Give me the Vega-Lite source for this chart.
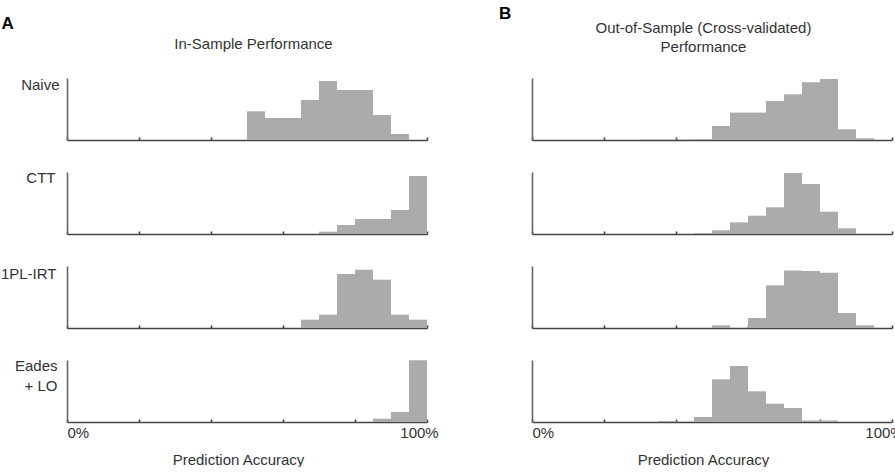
{
  "$schema": "https://vega.github.io/schema/vega-lite/v6.json",
  "padding": {"left": 0, "top": 5, "right": 0, "bottom": 0},
  "background": "white",
  "datasets": {
    "hist": [
      {"p": "A", "m": "Naive", "lo": 50, "hi": 55, "v": 28.7},
      {"p": "A", "m": "Naive", "lo": 55, "hi": 60, "v": 22},
      {"p": "A", "m": "Naive", "lo": 60, "hi": 65, "v": 22},
      {"p": "A", "m": "Naive", "lo": 65, "hi": 70, "v": 40},
      {"p": "A", "m": "Naive", "lo": 70, "hi": 75, "v": 59},
      {"p": "A", "m": "Naive", "lo": 75, "hi": 80, "v": 50},
      {"p": "A", "m": "Naive", "lo": 80, "hi": 85, "v": 50},
      {"p": "A", "m": "Naive", "lo": 85, "hi": 90, "v": 25},
      {"p": "A", "m": "Naive", "lo": 90, "hi": 95, "v": 6},
      {"p": "A", "m": "CTT", "lo": 70, "hi": 75, "v": 2.3},
      {"p": "A", "m": "CTT", "lo": 75, "hi": 80, "v": 9},
      {"p": "A", "m": "CTT", "lo": 80, "hi": 85, "v": 15},
      {"p": "A", "m": "CTT", "lo": 85, "hi": 90, "v": 15},
      {"p": "A", "m": "CTT", "lo": 90, "hi": 95, "v": 24},
      {"p": "A", "m": "CTT", "lo": 95, "hi": 100, "v": 58},
      {"p": "A", "m": "1PL-IRT", "lo": 65, "hi": 70, "v": 8.3},
      {"p": "A", "m": "1PL-IRT", "lo": 70, "hi": 75, "v": 13.3},
      {"p": "A", "m": "1PL-IRT", "lo": 75, "hi": 80, "v": 54},
      {"p": "A", "m": "1PL-IRT", "lo": 80, "hi": 85, "v": 58.3},
      {"p": "A", "m": "1PL-IRT", "lo": 85, "hi": 90, "v": 48.3},
      {"p": "A", "m": "1PL-IRT", "lo": 90, "hi": 95, "v": 13.3},
      {"p": "A", "m": "1PL-IRT", "lo": 95, "hi": 100, "v": 8.3},
      {"p": "A", "m": "Eades", "lo": 85, "hi": 90, "v": 3.3},
      {"p": "A", "m": "Eades", "lo": 90, "hi": 95, "v": 10},
      {"p": "A", "m": "Eades", "lo": 95, "hi": 100, "v": 61.7},
      {"p": "B", "m": "Naive", "lo": 30, "hi": 35, "v": 0.4},
      {"p": "B", "m": "Naive", "lo": 35, "hi": 40, "v": 0.4},
      {"p": "B", "m": "Naive", "lo": 40, "hi": 45, "v": 0.5},
      {"p": "B", "m": "Naive", "lo": 45, "hi": 50, "v": 0.7},
      {"p": "B", "m": "Naive", "lo": 50, "hi": 55, "v": 14},
      {"p": "B", "m": "Naive", "lo": 55, "hi": 60, "v": 27.4},
      {"p": "B", "m": "Naive", "lo": 60, "hi": 65, "v": 27.4},
      {"p": "B", "m": "Naive", "lo": 65, "hi": 70, "v": 39},
      {"p": "B", "m": "Naive", "lo": 70, "hi": 75, "v": 45.7},
      {"p": "B", "m": "Naive", "lo": 75, "hi": 80, "v": 57.7},
      {"p": "B", "m": "Naive", "lo": 80, "hi": 85, "v": 61},
      {"p": "B", "m": "Naive", "lo": 85, "hi": 90, "v": 10.7},
      {"p": "B", "m": "Naive", "lo": 90, "hi": 95, "v": 1.7},
      {"p": "B", "m": "CTT", "lo": 45, "hi": 50, "v": 1},
      {"p": "B", "m": "CTT", "lo": 50, "hi": 55, "v": 3.7},
      {"p": "B", "m": "CTT", "lo": 55, "hi": 60, "v": 11.7},
      {"p": "B", "m": "CTT", "lo": 60, "hi": 65, "v": 18.3},
      {"p": "B", "m": "CTT", "lo": 65, "hi": 70, "v": 26.7},
      {"p": "B", "m": "CTT", "lo": 70, "hi": 75, "v": 61},
      {"p": "B", "m": "CTT", "lo": 75, "hi": 80, "v": 50},
      {"p": "B", "m": "CTT", "lo": 80, "hi": 85, "v": 22.3},
      {"p": "B", "m": "CTT", "lo": 85, "hi": 90, "v": 5.7},
      {"p": "B", "m": "1PL-IRT", "lo": 50, "hi": 55, "v": 2.6},
      {"p": "B", "m": "1PL-IRT", "lo": 60, "hi": 65, "v": 10},
      {"p": "B", "m": "1PL-IRT", "lo": 65, "hi": 70, "v": 42.6},
      {"p": "B", "m": "1PL-IRT", "lo": 70, "hi": 75, "v": 57.6},
      {"p": "B", "m": "1PL-IRT", "lo": 75, "hi": 80, "v": 57},
      {"p": "B", "m": "1PL-IRT", "lo": 80, "hi": 85, "v": 55.3},
      {"p": "B", "m": "1PL-IRT", "lo": 85, "hi": 90, "v": 15},
      {"p": "B", "m": "1PL-IRT", "lo": 90, "hi": 95, "v": 2.6},
      {"p": "B", "m": "Eades", "lo": 35, "hi": 40, "v": 1},
      {"p": "B", "m": "Eades", "lo": 40, "hi": 45, "v": 0.5},
      {"p": "B", "m": "Eades", "lo": 45, "hi": 50, "v": 5},
      {"p": "B", "m": "Eades", "lo": 50, "hi": 55, "v": 42.7},
      {"p": "B", "m": "Eades", "lo": 55, "hi": 60, "v": 56},
      {"p": "B", "m": "Eades", "lo": 60, "hi": 65, "v": 30.7},
      {"p": "B", "m": "Eades", "lo": 65, "hi": 70, "v": 18.3},
      {"p": "B", "m": "Eades", "lo": 70, "hi": 75, "v": 14},
      {"p": "B", "m": "Eades", "lo": 75, "hi": 80, "v": 1.5},
      {"p": "B", "m": "Eades", "lo": 80, "hi": 85, "v": 1.5}
    ]
  },
  "data": {"name": "hist"},
  "config": {
    "font": "Liberation Sans",
    "view": {"stroke": null},
    "bar": {"color": "#ababab"},
    "axis": {
      "grid": false,
      "domainColor": "#444444",
      "domainWidth": 1.6,
      "tickColor": "#444444",
      "tickWidth": 1.6,
      "labelFont": "Liberation Sans",
      "labelFontSize": 15,
      "labelColor": "#333333",
      "titleFont": "Liberation Sans",
      "titleFontSize": 15,
      "titleFontWeight": "normal",
      "titleColor": "#333333"
    },
    "axisY": {"domainColor": "#666666"},
    "title": {"font": "Liberation Sans", "fontSize": 15, "fontWeight": "normal", "color": "#333333"}
  },
  "hconcat": [
    {
      "title": {"text": "A", "anchor": "start", "frame": "bounds", "fontSize": 17, "fontWeight": "bold", "color": "#000000", "baseline": "alphabetic", "dx": 1, "offset": -8.6},
      "bounds": "flush",
      "spacing": 32,
      "vconcat": [
        {
          "title": {"text": "In-Sample Performance", "baseline": "bottom", "offset": 10, "dx": 6.5, "anchor": "middle", "frame": "group"},
          "width": 360, "height": 62,
          "transform": [{"filter": "datum.p == 'A' && datum.m == 'Naive'"}],
          "mark": {"type": "bar"},
          "encoding": {
            "x": {"field": "lo", "type": "quantitative", "scale": {"domain": [0, 100]}, "axis": {"values": [0, 20, 40, 60, 80, 100], "labels": false, "title": null, "tickSize": -3}},
            "x2": {"field": "hi"},
            "y": {"field": "v", "type": "quantitative", "scale": {"domain": [0, 62]}, "axis": {"title": "Naive", "titleAngle": 0, "titleAlign": "right", "titleBaseline": "top", "titleX": -8, "titleY": -1, "ticks": false, "labels": false}},
            "y2": {"datum": 0}
          }
        },
        {
          "width": 360, "height": 62,
          "transform": [{"filter": "datum.p == 'A' && datum.m == 'CTT'"}],
          "mark": {"type": "bar"},
          "encoding": {
            "x": {"field": "lo", "type": "quantitative", "scale": {"domain": [0, 100]}, "axis": {"values": [0, 20, 40, 60, 80, 100], "labels": false, "title": null, "tickSize": -3}},
            "x2": {"field": "hi"},
            "y": {"field": "v", "type": "quantitative", "scale": {"domain": [0, 62]}, "axis": {"title": "CTT", "titleAngle": 0, "titleAlign": "right", "titleBaseline": "top", "titleX": -12, "titleY": -2, "ticks": false, "labels": false}},
            "y2": {"datum": 0}
          }
        },
        {
          "width": 360, "height": 62,
          "transform": [{"filter": "datum.p == 'A' && datum.m == '1PL-IRT'"}],
          "mark": {"type": "bar"},
          "encoding": {
            "x": {"field": "lo", "type": "quantitative", "scale": {"domain": [0, 100]}, "axis": {"values": [0, 20, 40, 60, 80, 100], "labels": false, "title": null, "tickSize": -3}},
            "x2": {"field": "hi"},
            "y": {"field": "v", "type": "quantitative", "scale": {"domain": [0, 62]}, "axis": {"title": "1PL-IRT", "titleAngle": 0, "titleAlign": "right", "titleBaseline": "top", "titleX": -11, "titleY": 0, "ticks": false, "labels": false}},
            "y2": {"datum": 0}
          }
        },
        {
          "width": 360, "height": 62,
          "transform": [{"filter": "datum.p == 'A' && datum.m == 'Eades'"}],
          "mark": {"type": "bar"},
          "encoding": {
            "x": {"field": "lo", "type": "quantitative", "scale": {"domain": [0, 100]}, "axis": {"values": [0, 20, 40, 60, 80, 100], "tickSize": -3, "labelFlush": false, "labelExpr": "datum.value == 0 ? '0%' : datum.value == 100 ? '100%' : ''", "labelAlign": {"condition": {"test": "datum.value == 0", "value": "left"}, "value": "center"}, "labelOffset": {"condition": {"test": "datum.value == 100", "value": -8}, "value": 0}, "labelBaseline": "top", "labelPadding": 6, "title": "Prediction Accuracy", "titleX": 171, "titleY": 42, "titleAlign": "center", "titleBaseline": "alphabetic"}},
            "x2": {"field": "hi"},
            "y": {"field": "v", "type": "quantitative", "scale": {"domain": [0, 62]}, "axis": {"title": ["Eades", "+ LO"], "titleAngle": 0, "titleAlign": "right", "titleBaseline": "top", "titleX": -10, "titleY": -2, "titleLineHeight": 20, "ticks": false, "labels": false}},
            "y2": {"datum": 0}
          }
        }
      ]
    },
    {
      "title": {"text": "B", "anchor": "start", "frame": "group", "fontSize": 17, "fontWeight": "bold", "color": "#000000", "baseline": "alphabetic", "dx": -33, "offset": -15.3},
      "bounds": "flush",
      "spacing": 32,
      "vconcat": [
        {
          "title": {"text": ["Out-of-Sample (Cross-validated)", "Performance"], "baseline": "bottom", "lineHeight": 19, "offset": 8, "dx": -8.5, "anchor": "middle", "frame": "group"},
          "width": 360, "height": 62,
          "transform": [{"filter": "datum.p == 'B' && datum.m == 'Naive'"}],
          "mark": {"type": "bar"},
          "encoding": {
            "x": {"field": "lo", "type": "quantitative", "scale": {"domain": [0, 100]}, "axis": {"values": [0, 20, 40, 60, 80, 100], "labels": false, "title": null, "tickSize": -3}},
            "x2": {"field": "hi"},
            "y": {"field": "v", "type": "quantitative", "scale": {"domain": [0, 62]}, "axis": {"title": null, "ticks": false, "labels": false}},
            "y2": {"datum": 0}
          }
        },
        {
          "width": 360, "height": 62,
          "transform": [{"filter": "datum.p == 'B' && datum.m == 'CTT'"}],
          "mark": {"type": "bar"},
          "encoding": {
            "x": {"field": "lo", "type": "quantitative", "scale": {"domain": [0, 100]}, "axis": {"values": [0, 20, 40, 60, 80, 100], "labels": false, "title": null, "tickSize": -3}},
            "x2": {"field": "hi"},
            "y": {"field": "v", "type": "quantitative", "scale": {"domain": [0, 62]}, "axis": {"title": null, "ticks": false, "labels": false}},
            "y2": {"datum": 0}
          }
        },
        {
          "width": 360, "height": 62,
          "transform": [{"filter": "datum.p == 'B' && datum.m == '1PL-IRT'"}],
          "mark": {"type": "bar"},
          "encoding": {
            "x": {"field": "lo", "type": "quantitative", "scale": {"domain": [0, 100]}, "axis": {"values": [0, 20, 40, 60, 80, 100], "labels": false, "title": null, "tickSize": -3}},
            "x2": {"field": "hi"},
            "y": {"field": "v", "type": "quantitative", "scale": {"domain": [0, 62]}, "axis": {"title": null, "ticks": false, "labels": false}},
            "y2": {"datum": 0}
          }
        },
        {
          "width": 360, "height": 62,
          "transform": [{"filter": "datum.p == 'B' && datum.m == 'Eades'"}],
          "mark": {"type": "bar"},
          "encoding": {
            "x": {"field": "lo", "type": "quantitative", "scale": {"domain": [0, 100]}, "axis": {"values": [0, 20, 40, 60, 80, 100], "tickSize": -3, "labelFlush": false, "labelExpr": "datum.value == 0 ? '0%' : datum.value == 100 ? '100%' : ''", "labelAlign": {"condition": {"test": "datum.value == 0", "value": "left"}, "value": "center"}, "labelOffset": {"condition": {"test": "datum.value == 100", "value": -8}, "value": 0}, "labelBaseline": "top", "labelPadding": 6, "title": "Prediction Accuracy", "titleX": 171, "titleY": 42, "titleAlign": "center", "titleBaseline": "alphabetic"}},
            "x2": {"field": "hi"},
            "y": {"field": "v", "type": "quantitative", "scale": {"domain": [0, 62]}, "axis": {"title": null, "ticks": false, "labels": false}},
            "y2": {"datum": 0}
          }
        }
      ]
    }
  ],
  "spacing": 60
}
